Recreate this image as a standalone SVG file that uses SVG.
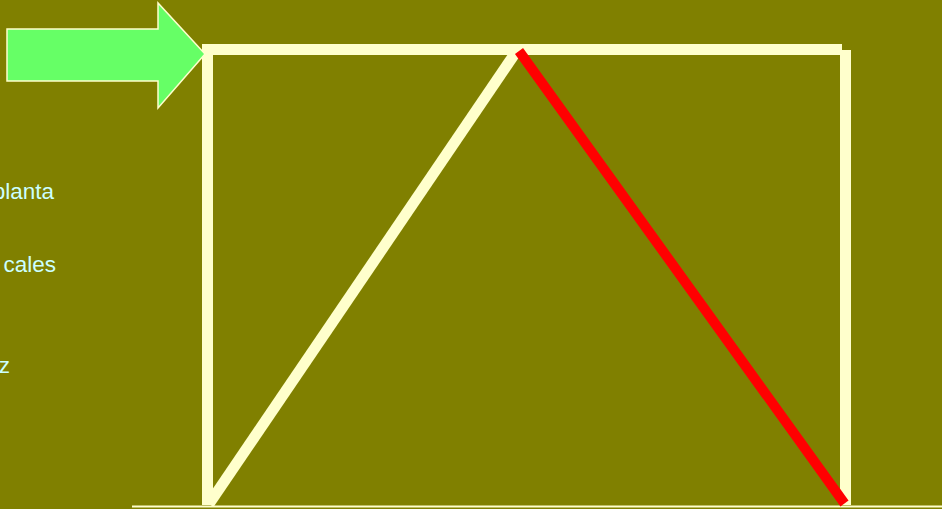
<svg xmlns="http://www.w3.org/2000/svg" width="942" height="509" viewBox="0 0 942 509">
  <style>
    .beam { stroke: #FFFFCC; stroke-width: 11; fill: none; stroke-linecap: butt; }
    .red { stroke: #FF0000; stroke-width: 10; fill: none; stroke-linecap: butt; }
    .lbl { font-family: "Liberation Sans", Arial, sans-serif; font-size: 22.5px; fill: #CCFFFF; }
  </style>
  <rect x="0" y="0" width="942" height="509" fill="#808000"/>
  <g id="labels">
    <text class="lbl" x="54" y="199" text-anchor="end">planta</text>
    <text class="lbl" x="56" y="272" text-anchor="end">cales</text>
    <text class="lbl" x="10" y="373" text-anchor="end">z</text>
  </g>
  <g id="connectors">
    <line id="ground" x1="132" y1="506.5" x2="942" y2="506.5" stroke="#FFFFCC" stroke-width="2"/>
    <line id="diag-left" class="beam" x1="209" y1="504" x2="516" y2="52" stroke-width="10"/>
    <line id="col-left" class="beam" x1="207.5" y1="44" x2="207.5" y2="505"/>
    <line id="col-right" class="beam" x1="845.5" y1="50" x2="845.5" y2="505"/>
    <line id="top-beam" class="beam" x1="205" y1="49.5" x2="842" y2="49.5"/>
    <line id="diag-right" class="red" x1="519" y1="51" x2="844.5" y2="503.5"/>
  </g>
  <g id="arrow">
    <polygon points="7,29 158,29 158,3 205,54 158,108 158,81 7,81" fill="#66FF66" stroke="#FFFFCC" stroke-width="1.5"/>
  </g>
</svg>
